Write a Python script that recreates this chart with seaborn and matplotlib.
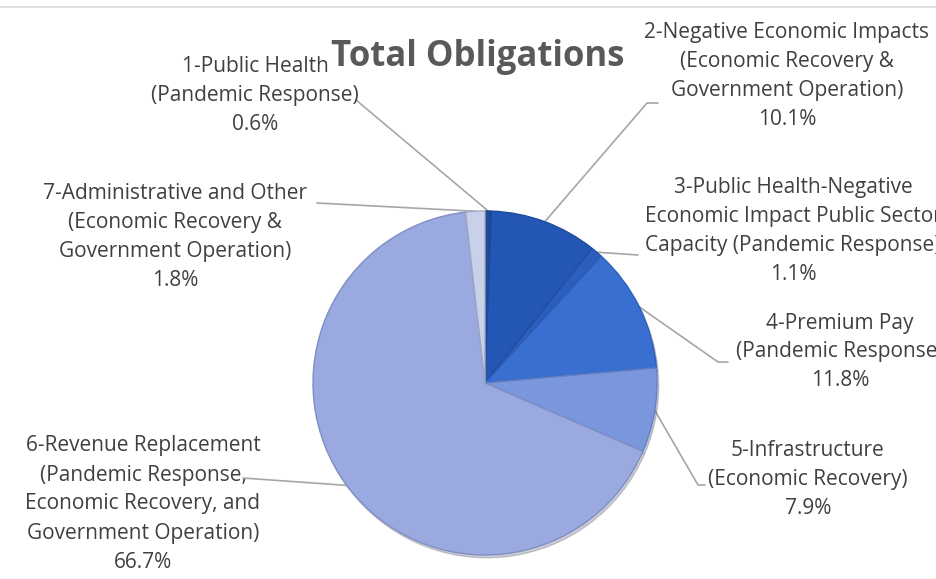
import numpy as np
import matplotlib
matplotlib.use("Agg")
import matplotlib.pyplot as plt
import seaborn as sns

labels = [
    "1-Public Health\n(Pandemic Response)",
    "2-Negative Economic Impacts\n(Economic Recovery &\nGovernment Operation)",
    "3-Public Health-Negative\nEconomic Impact Public Sector\nCapacity (Pandemic Response)",
    "4-Premium Pay\n(Pandemic Response)",
    "5-Infrastructure\n(Economic Recovery)",
    "6-Revenue Replacement\n(Pandemic Response,\nEconomic Recovery, and\nGovernment Operation)",
    "7-Administrative and Other\n(Economic Recovery &\nGovernment Operation)",
]
shares = [0.6, 10.1, 1.1, 11.8, 7.9, 66.7, 1.8]
colors = ["#1D4A9A", "#2457B5", "#2B5EBE", "#3A6FD2", "#7A96DC", "#9AAAE0", "#C9D1EA"]
edges = ["#1A3F80", "#1D4A98", "#2250A0", "#2F5EB8", "#6580C0", "#7F8FC4", "#A0A9C4"]

# label centre, leader end near label, optional elbow (pixel layout)
label_pos = [(255, 96), (787, 76), (793, 231), (840, 352), (808, 480), (143, 504), (175, 237)]
leader_end = [(356, 100), (658, 103), (638, 255), (728, 362), (705, 485), (243, 478), (317, 203)]
leader_elbow = [None, (647, 103), None, (718, 362), (698, 485), None, None]

W, H = 937, 579
cx, cy, r = 485, 383, 172

sns.set_theme(style="white")
plt.rcParams['font.family'] = ['Open Sans', 'DejaVu Sans']

fig = plt.figure(figsize=(W / 100, H / 100), dpi=100)
ax = fig.add_axes([0, 0, 1, 1])
ax.set_xlim(0, W)
ax.set_ylim(H, 0)
ax.axis("off")

# pie in a separate axes so it keeps its own orientation
pax = fig.add_axes([0, 0, 1, 1])
wedges, _ = pax.pie(shares, colors=colors, startangle=90, counterclock=False,
                    center=(cx, H - cy), radius=r, frame=True,
                    shadow=dict(ox=1.2, oy=-2.0, shade=0.6, alpha=0.25),
                    wedgeprops=dict(linewidth=1.0))
for w, ec in zip(wedges, edges):
    w.set_edgecolor(ec)
pax.set_xlim(0, W)
pax.set_ylim(0, H)
pax.set_aspect("auto")
pax.axis("off")

# top border line
ax.plot([0, W], [7, 7], color="#d9d9d9", lw=1.2)

ax.text(478, 57, "Total Obligations", ha="center", va="center",
        fontsize=25, fontweight="bold", color="#595959")

txt_color = "#404040"
for w, lab, val, pos, end, elb in zip(wedges, labels, shares, label_pos, leader_end, leader_elbow):
    mid = np.deg2rad((w.theta1 + w.theta2) / 2)
    ax_x = cx + r * np.cos(mid)
    ax_y = cy - r * np.sin(mid)
    pts = [(ax_x, ax_y)]
    if elb is not None:
        pts.append(elb)
    pts.append(end)
    xs, ys = zip(*pts)
    ax.plot(xs, ys, color="#a6a6a6", lw=1.2, zorder=3)
    ax.text(pos[0], pos[1], f"{lab}\n{val:.1f}%", ha="center", va="center",
            fontsize=15, color=txt_color, linespacing=1.5, zorder=4)

fig.savefig("out.png", dpi=100)
